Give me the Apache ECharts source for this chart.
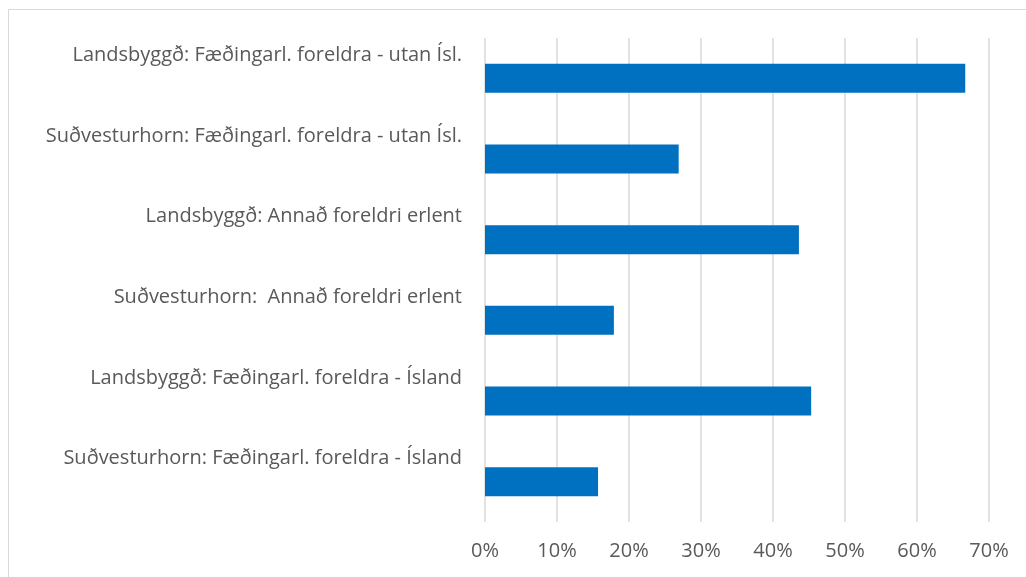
<!DOCTYPE html>
<html>
<head>
<meta charset="utf-8">
<script src="https://cdn.jsdelivr.net/npm/echarts@6/dist/echarts.min.js"></script>
<style>
  html, body { margin: 0; padding: 0; background: #fff; }
  #chart { width: 1026px; height: 577px; }
</style>
</head>
<body>
<div id="chart"></div>
<script>
// flokkar (neðst til efst í echarts röð)
var categories = [
  'Suðvesturhorn: Fæðingarl. foreldra - Ísland',
  'Landsbyggð: Fæðingarl. foreldra - Ísland',
  'Suðvesturhorn:  Annað foreldri erlent',
  'Landsbyggð: Annað foreldri erlent',
  'Suðvesturhorn: Fæðingarl. foreldra - utan Ísl.',
  'Landsbyggð: Fæðingarl. foreldra - utan Ísl.'
];
var values = [15.7, 45.3, 17.9, 43.6, 26.9, 66.7];
var xTicks = [0, 10, 20, 30, 40, 50, 60, 70];

var chart = echarts.init(document.getElementById('chart'));
var font = '"Open Sans", "Liberation Sans", sans-serif';

var option = {
  animation: false,
  backgroundColor: '#fff',
  grid: { left: 485, right: 37, top: 38, bottom: 55 },
  graphic: [{
    type: 'rect',
    shape: { x: 8.5, y: 9.5, width: 1100, height: 700 },
    style: { fill: 'none', stroke: '#d9d9d9', lineWidth: 1 },
    silent: true
  }],
  xAxis: {
    type: 'value',
    min: xTicks[0],
    max: xTicks[xTicks.length - 1],
    interval: 10,
    axisLine: { show: false },
    axisTick: { show: false },
    splitLine: { lineStyle: { color: '#d9d9d9', width: 1.5 } },
    axisLabel: {
      formatter: '{value}%',
      color: '#595959',
      fontSize: 20,
      fontFamily: font,
      margin: 19
    }
  },
  yAxis: {
    type: 'category',
    data: categories,
    axisLine: { show: false },
    axisTick: { show: false },
    axisLabel: {
      color: '#595959',
      fontSize: 20,
      fontFamily: font,
      margin: 23,
      interval: 0,
      showMinLabel: true,
      showMaxLabel: true,
      hideOverlap: false,
      lineHeight: 46,
      verticalAlign: 'middle',
      // tóm seinni lína ýtir texta upp fyrir súluna
      formatter: function (v) { return v + '\n '; }
    }
  },
  series: [{
    type: 'bar',
    data: values,
    barWidth: 29,
    itemStyle: { color: '#0070c0' }
  }]
};

chart.setOption(option);
</script>
</body>
</html>
